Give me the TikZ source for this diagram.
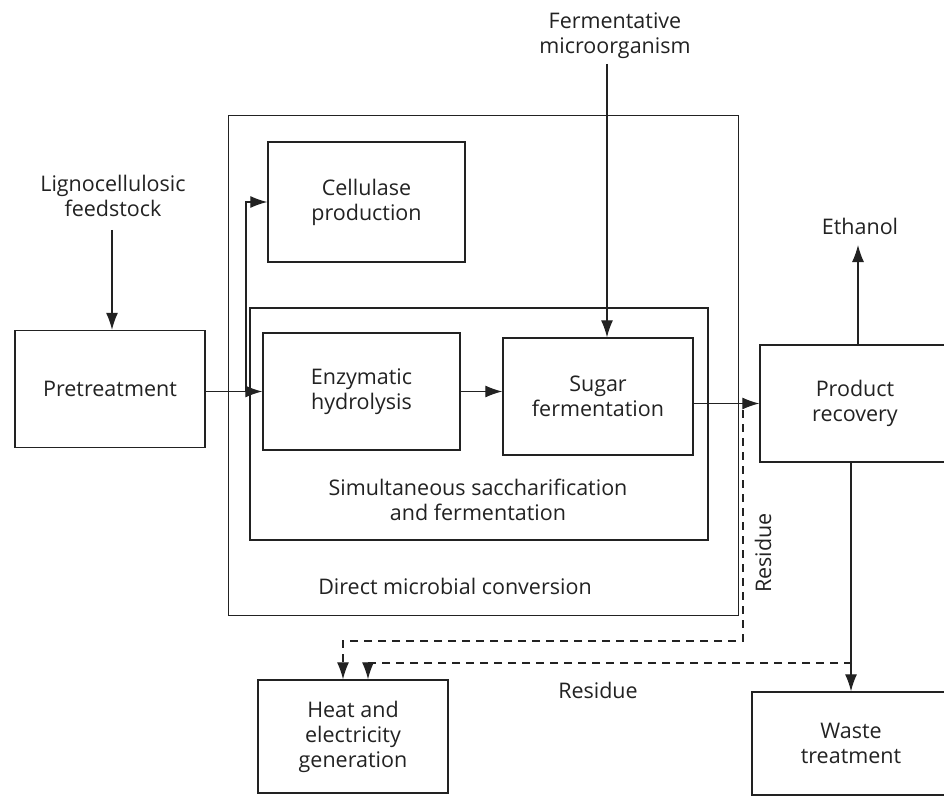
\documentclass[tikz,border=0pt]{standalone}
\usepackage{fontspec}
\setmainfont{Open Sans}
\usetikzlibrary{arrows.meta}
\definecolor{ink}{HTML}{222222}
\tikzset{
  box/.style={draw=ink, line width=1.4pt, align=center, inner sep=0pt, text=ink},
  lbl/.style={align=center, inner sep=0pt, text=ink},
  arr/.style={draw=ink, line width=1.2pt, -{Latex[length=17pt,width=12pt]}},
  dsh/.style={arr, dash pattern=on 8pt off 6pt},
  frame/.style={draw=ink, line width=1pt}
}
\begin{document}
\begin{tikzpicture}[x=1pt,y=-1pt, font=\fontsize{21.5}{25}\selectfont]
\useasboundingbox (0,0) rectangle (944,802);
\clip (0,0) rectangle (944,802);
% containers
\node[box, frame, minimum width=510pt, minimum height=499pt] (dmc) at (483,365.5) {};
\node[box, minimum width=458pt, minimum height=232pt] (ssf) at (479,424) {};
\node[lbl] (dmcl) at (455,586) {Direct microbial conversion};
\node[lbl] (ssfl) at (478,500) {Simultaneous saccharification\\and fermentation};
% boxes
\node[box, minimum width=190pt, minimum height=117pt] (pre) at (110,389) {Pretreatment};
\node[box, minimum width=197pt, minimum height=120pt] (cel) at (366.5,202) {Cellulase\\production};
\node[box, minimum width=197pt, minimum height=117pt] (enz) at (361.5,391.5) {Enzymatic\\hydrolysis};
\node[box, minimum width=190pt, minimum height=117pt] (sug) at (598,396.5) {Sugar\\fermentation};
\node[box, minimum width=190pt, minimum height=117pt] (prod) at (855,403.5) {Product\\recovery};
\node[box, minimum width=198pt, minimum height=103pt] (waste) at (851,743.5) {Waste\\treatment};
\node[box, minimum width=190pt, minimum height=113pt] (heat) at (353,736.5) {Heat and\\electricity\\generation};
% free labels
\node[lbl] (lig) at (113,196) {Lignocellulosic\\feedstock};
\node[lbl] (ferm) at (615,36) {Fermentative\\microorganism};
\node[lbl] (eth) at (860,226) {Ethanol};
\node[lbl, rotate=90] (res1) at (763,553) {Residue};
\node[lbl] (res2) at (598,690) {Residue};
% coordinates
\coordinate (br) at (246,391.5);
\coordinate (d1s) at (743,410);
\coordinate (d1) at (343,641);
\coordinate (d2s) at (852,663);
\coordinate (d2) at (368,663);
\coordinate (ft) at (607,64);
\coordinate (et) at (858,245);
\coordinate (lt) at (112,230);
% connectors
\draw[arr] (lt) -- (lt |- pre.north);
\draw[arr] (pre.east |- enz.west) -- (enz.west);
\draw[arr] (br) |- (cel.west);
\draw[arr] (enz.east) -- (enz.east -| sug.west);
\draw[arr] (ft) -- (ft |- sug.north);
\draw[arr] (sug.east |- prod.west) -- (prod.west);
\draw[arr] (et |- prod.north) -- (et);
\draw[arr] (prod.south -| waste.north) -- (waste.north);
\draw[dsh] (d1s) |- (d1) -- (d1 |- heat.north);
\draw[dsh] (d2s) -| (d2 |- heat.north);
\end{tikzpicture}
\end{document}
